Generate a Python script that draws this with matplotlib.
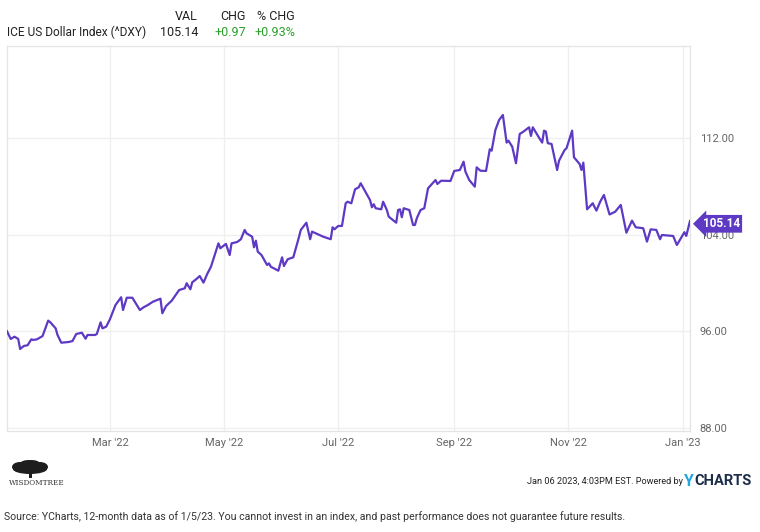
import matplotlib
matplotlib.use("Agg")
import matplotlib.pyplot as plt
import matplotlib.patches as mpatches
import pandas as pd

# ---------------- data ----------------
start_date = "2022-01-05"
day_offsets = [0, 2, 4, 6, 7, 9, 11, 13, 14, 16, 19, 22, 23, 26, 27, 29, 31, 33, 35, 37,
               40, 42, 43, 47, 48, 50, 51, 53, 55, 58, 61, 62, 64, 67, 71, 73, 75, 78, 82, 83,
               85, 88, 91, 92, 95, 96, 98, 99, 101, 103, 105, 107, 109, 113, 114, 117, 119, 120, 123, 125,
               127, 128, 131, 132, 133, 134, 136, 139, 140, 141, 145, 147, 148, 150, 153, 156, 157, 160, 162, 163,
               167, 169, 173, 174, 175, 177, 179, 181, 182, 184, 186, 188, 189, 191, 193, 194, 195, 196, 197, 200,
               201, 203, 204, 208, 209, 210, 211, 212, 215, 217, 218, 219, 221, 223, 225, 229, 230, 232, 237, 239,
               242, 244, 245, 247, 250, 251, 253, 256, 258, 259, 261, 263, 265, 267, 268, 270, 272, 274, 276, 279,
               280, 281, 284, 286, 287, 288, 289, 291, 294, 295, 298, 299, 302, 303, 306, 307, 308, 310, 313, 315,
               317, 319, 322, 325, 328, 331, 334, 336, 340, 342, 344, 347, 349, 350, 356, 358, 362, 363, 365]
dxy_values = [96.00, 95.36, 95.55, 95.36, 94.53, 94.78, 94.84, 95.33, 95.28, 95.33, 95.60, 96.88, 96.77, 96.24, 95.69, 95.05, 95.08, 95.11, 95.19, 95.77,
              95.88, 95.38, 95.69, 95.69, 95.77, 96.74, 96.24, 96.38, 96.99, 98.18, 98.82, 97.76, 98.78, 98.78, 97.76, 97.99, 98.15, 98.45, 98.70, 97.49,
              98.09, 98.53, 99.20, 99.42, 99.56, 99.98, 99.48, 100.06, 100.30, 100.58, 100.03, 100.75, 101.35, 103.29, 102.88, 103.24, 102.32, 103.29, 103.40, 103.63,
              104.40, 104.12, 103.84, 102.96, 103.51, 102.60, 102.32, 101.49, 101.63, 101.35, 101.02, 102.13, 101.41, 101.97, 102.13, 103.79, 104.40, 105.00, 103.63, 104.26,
              103.98, 103.84, 103.63, 104.62, 104.45, 104.73, 104.73, 106.61, 106.74, 106.61, 107.77, 107.94, 108.27, 107.71, 107.16, 106.88, 106.28, 106.53, 106.20, 106.11,
              106.74, 106.05, 105.50, 105.00, 106.05, 106.11, 105.45, 106.20, 106.05, 104.81, 104.81, 105.37, 106.05, 106.20, 107.85, 108.54, 108.21, 108.48, 108.46, 109.29,
              109.37, 110.06, 109.23, 108.54, 107.99, 109.59, 109.31, 109.29, 111.09, 110.97, 112.69, 113.52, 113.93, 111.64, 111.80, 111.30, 109.93, 112.36, 112.55, 112.91,
              112.19, 112.91, 112.13, 111.64, 112.63, 112.55, 111.59, 111.53, 109.37, 110.14, 111.03, 111.17, 112.63, 110.42, 109.87, 109.37, 109.98, 106.11, 106.61, 106.00,
              106.74, 107.30, 105.68, 105.91, 106.47, 104.17, 105.17, 104.62, 104.54, 103.43, 104.45, 104.40, 103.63, 103.98, 103.90, 103.15, 104.21, 103.90, 105.14]

y_ticks = [88, 96, 104, 112]
x_tick_dates = ["2022-03-01", "2022-05-01", "2022-07-01", "2022-09-01", "2022-11-01", "2023-01-01"]
x_tick_labels = ["Mar '22", "May '22", "Jul '22", "Sep '22", "Nov '22", "Jan '23"]

series_name = "ICE US Dollar Index (^DXY)"
header_cols = ["VAL", "CHG", "% CHG"]
header_vals = ["105.14", "+0.97", "+0.93%"]
last_value = 105.14

# ---------------- styling ----------------
W, H = 760, 532
PURPLE = "#5d39c4"
GRID = "#efefef"
TXT = "#666666"
GREEN = "#2aa02a"
FONT = ["Roboto", "DejaVu Sans"]
plt.rcParams["font.family"] = FONT


def fx(px):
    return px / W


def fy(py):
    return 1 - py / H


dates = pd.Timestamp(start_date) + pd.to_timedelta(day_offsets, unit="D")

fig = plt.figure(figsize=(W / 100, H / 100), dpi=100)
ax = fig.add_axes([fx(7), fy(431), fx(690) - fx(7), fy(46) - fy(431)])

ax.plot(dates, dxy_values, color=PURPLE, lw=1.6, solid_joinstyle="round", zorder=3)
ax.set_xlim(pd.Timestamp(start_date), pd.Timestamp(start_date) + pd.Timedelta(days=365))
ax.set_ylim(87.73, 119.65)

ax.yaxis.tick_right()
ax.set_yticks(y_ticks)
ax.set_yticklabels([f"{v:.2f}" for v in y_ticks])
ax.set_xticks(pd.to_datetime(x_tick_dates))
ax.set_xticklabels(x_tick_labels)
ax.tick_params(axis="y", length=0, colors=TXT, labelsize=8, pad=7)
ax.tick_params(axis="x", length=0, colors=TXT, labelsize=8, pad=5)
ax.grid(True, color=GRID, lw=0.9)
ax.set_axisbelow(True)
for s in ax.spines.values():
    s.set_color("#e4e4e4")
    s.set_linewidth(0.9)

# last value tag (sits over the 104.00 label, as in the original)
ax.annotate(f"{last_value:.2f}", xy=(dates[-1], last_value), xytext=(9, -2),
            textcoords="offset points", ha="left", va="center", color="white",
            fontsize=8.5, fontweight="bold", annotation_clip=False, zorder=5,
            bbox=dict(boxstyle="larrow,pad=0.2", fc=PURPLE, ec="none"))

# header
hdr_right = [198, 246, 295]
for col, xr in zip(header_cols, hdr_right):
    fig.text(fx(xr), fy(16), col, ha="right", va="center", fontsize=9, color="#222222")
fig.text(fx(7), fy(32), series_name, ha="left", va="center", fontsize=8.6, color="#222222")
val_colors = ["#222222", GREEN, GREEN]
for v, xr, c in zip(header_vals, hdr_right, val_colors):
    fig.text(fx(xr), fy(32), v, ha="right", va="center", fontsize=9, color=c)

# footer right
fig.text(fx(683), fy(481), "Jan 06 2023, 4:03PM EST. Powered by", ha="right", va="center",
         fontsize=6.6, color="#222222")
fig.text(fx(684), fy(481), "Y", ha="left", va="center", fontsize=11.5, fontweight="bold", color="#22a6e0")
fig.text(fx(694), fy(481), "CHARTS", ha="left", va="center", fontsize=10.5, fontweight="bold", color="#1c2d4c")

# WisdomTree logo (approximate)
tree_parts = [(30, 469, 34, 10), (20, 467, 16, 10), (40, 467, 16, 10), (30, 465, 22, 10), (26, 463, 10, 5), (34, 463, 10, 5)]
for cx, cy, w, h in tree_parts:
    fig.patches.append(mpatches.Ellipse((fx(cx), fy(cy)), fx(w), h / H, transform=fig.transFigure,
                                        fc="#1e1e1e", ec="none"))
fig.patches.append(mpatches.Rectangle((fx(28.5), fy(478)), fx(3), 6 / H, transform=fig.transFigure,
                                      fc="#1e1e1e", ec="none"))
fig.text(fx(9), fy(483), "WISDOMTREE", ha="left", va="center", fontsize=5.2,
         family="DejaVu Serif", color="#333333")

# source
fig.text(fx(4), fy(517),
         "Source: YCharts, 12-month data as of 1/5/23. You cannot invest in an index, and past performance does not guarantee future results.",
         ha="left", va="center", fontsize=7.6, color="#333333")

fig.savefig("out.png", dpi=100)
